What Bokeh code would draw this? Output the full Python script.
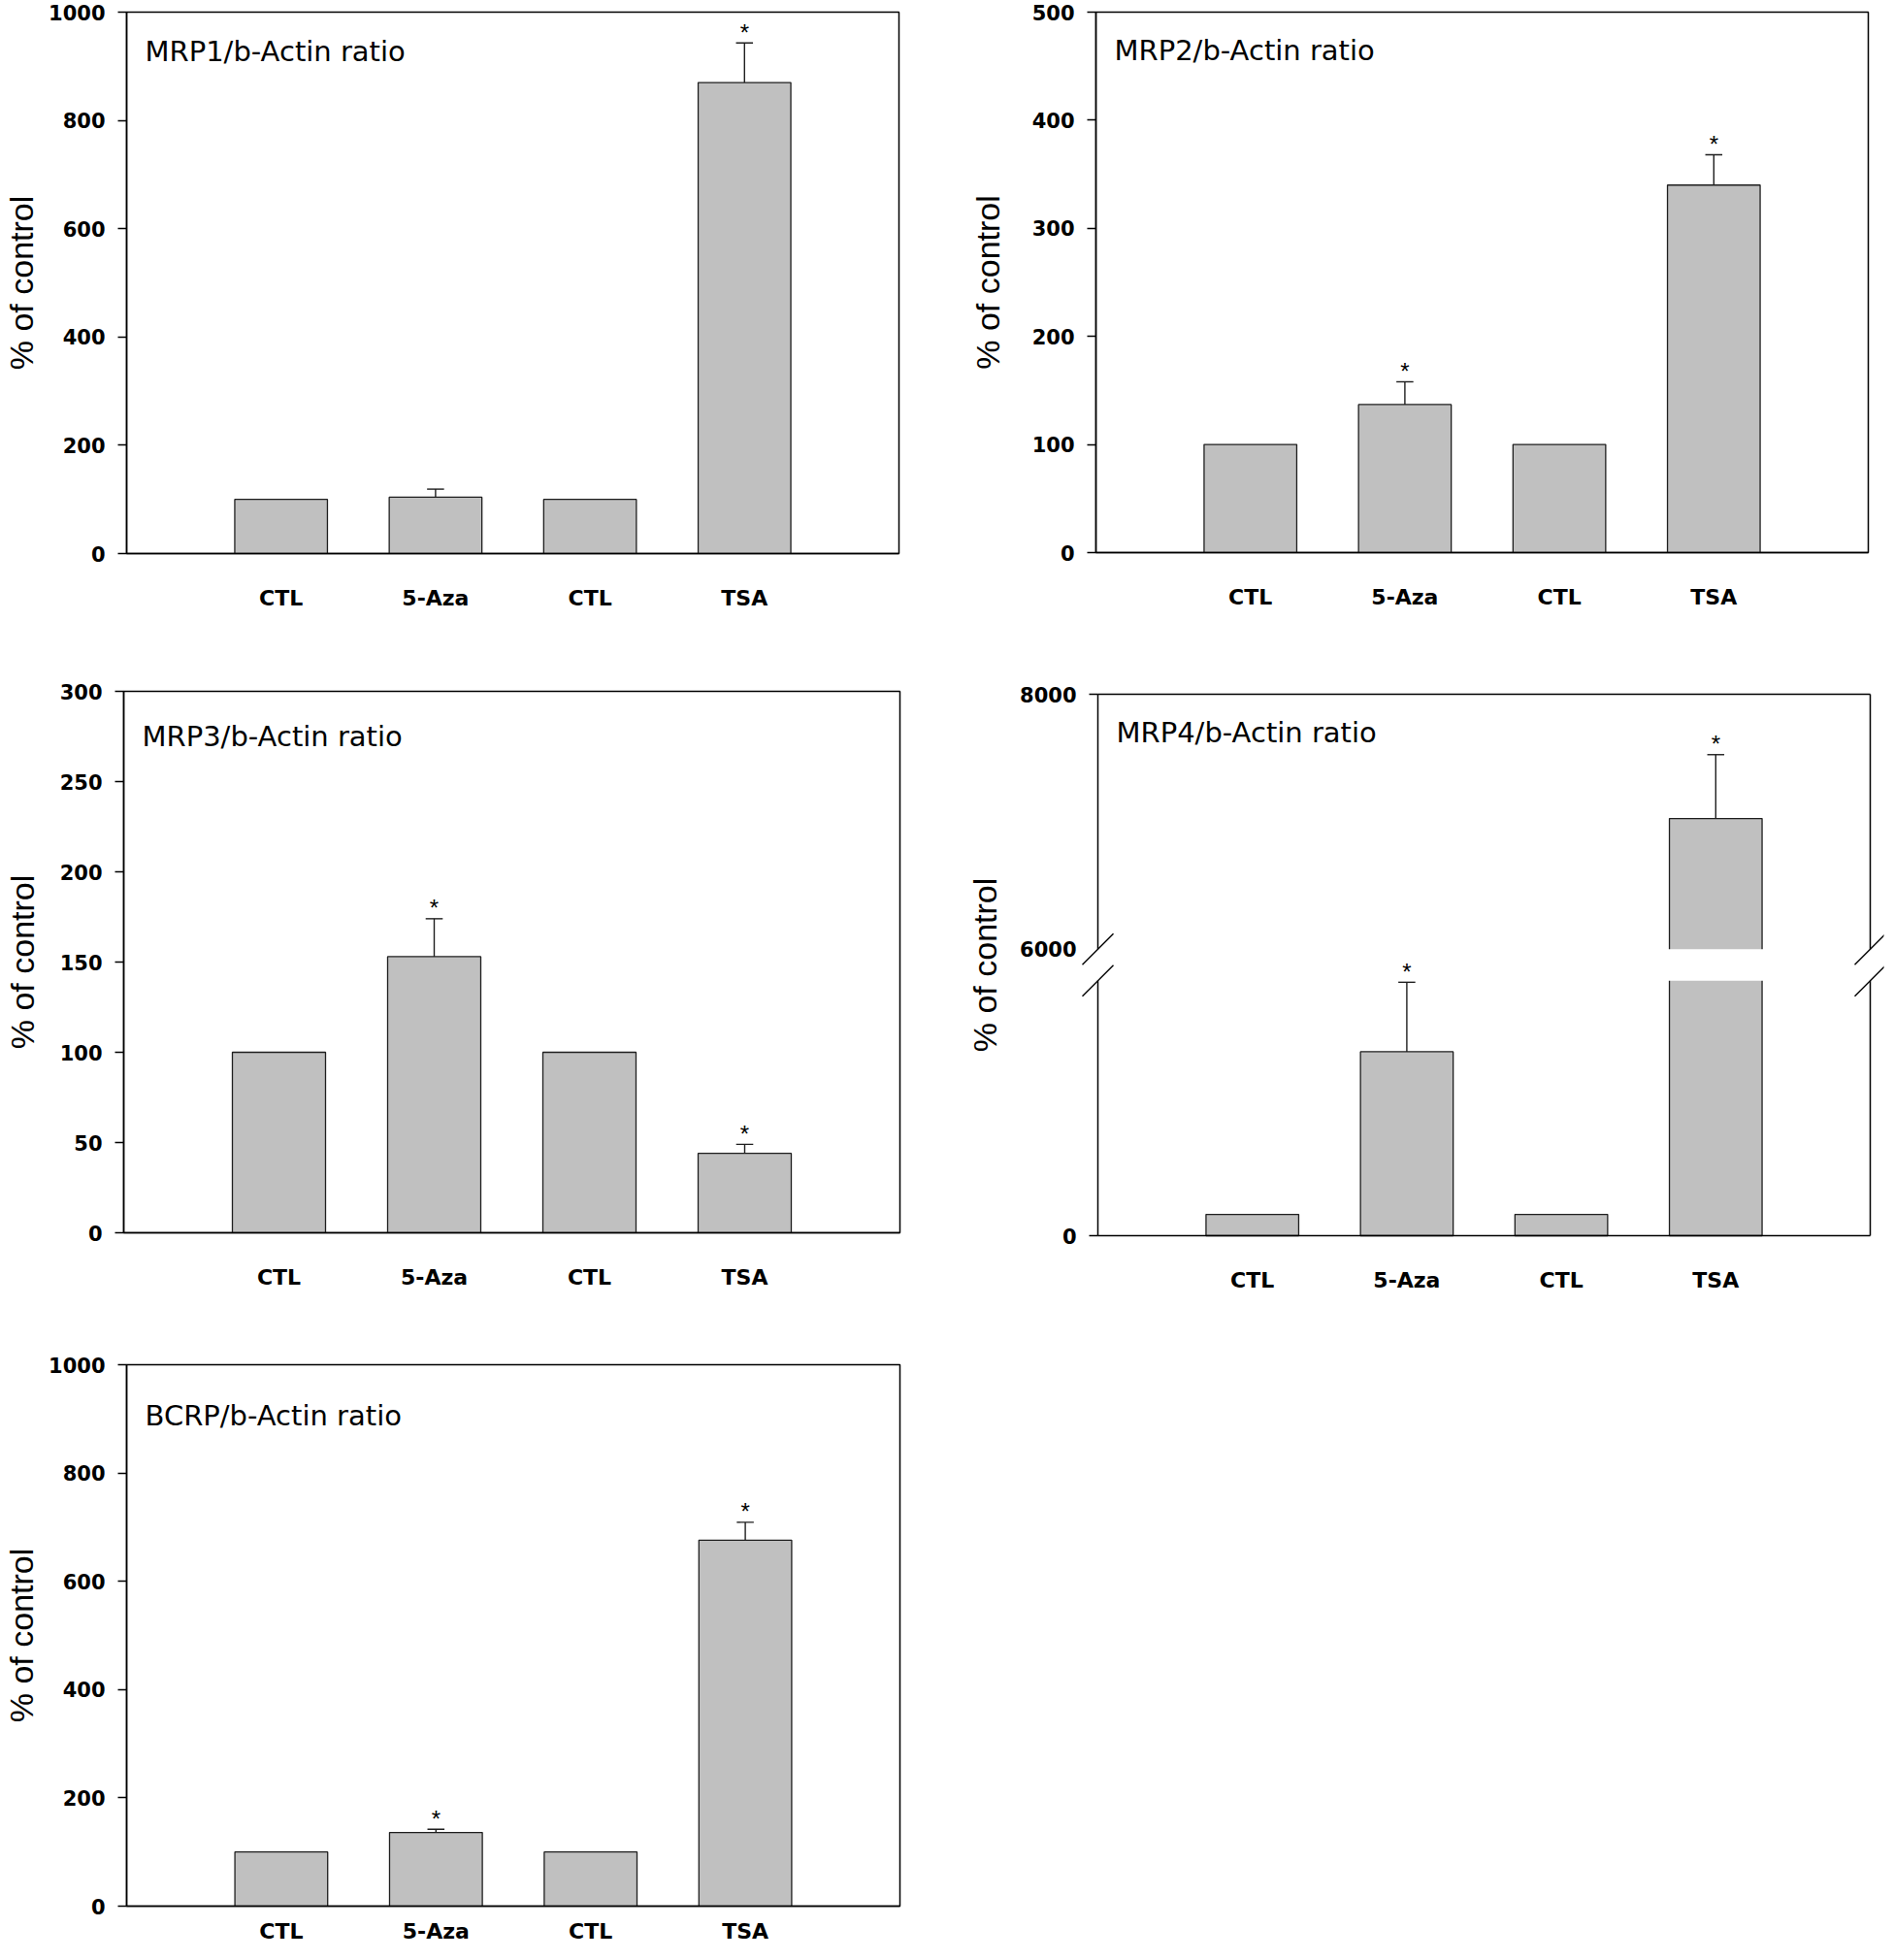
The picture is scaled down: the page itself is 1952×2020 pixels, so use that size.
from bokeh.plotting import figure
from bokeh.layouts import column, row
from bokeh.models import (Range1d, FixedTicker, Label, CustomJSTickFormatter, ColumnDataSource)
from bokeh.core.properties import value
from bokeh.embed import file_html
from bokeh.resources import INLINE

# ---------------- data ----------------
categories = ["CTL", "5-Aza", "CTL", "TSA"]
x_positions = [1, 2, 3, 4]
y_label = "% of control"

mrp1_title = "MRP1/b-Actin ratio"
mrp1_mean = [100, 104, 100, 870]
mrp1_sem = [0, 15, 0, 73]
mrp1_star = [False, False, False, True]
mrp1_yticks = [0, 200, 400, 600, 800, 1000]

mrp2_title = "MRP2/b-Actin ratio"
mrp2_mean = [100, 137, 100, 340]
mrp2_sem = [0, 21, 0, 28]
mrp2_star = [False, True, False, True]
mrp2_yticks = [0, 100, 200, 300, 400, 500]

mrp3_title = "MRP3/b-Actin ratio"
mrp3_mean = [100, 153, 100, 44]
mrp3_sem = [0, 21, 0, 5]
mrp3_star = [False, True, False, True]
mrp3_yticks = [0, 50, 100, 150, 200, 250, 300]

mrp4_title = "MRP4/b-Actin ratio"
mrp4_mean = [100, 866, 100, 7025]
mrp4_sem = [0, 327, 0, 501]
mrp4_star = [False, True, False, True]
mrp4_yticks = [0, 6000, 8000]
mrp4_low_top = 1200      # top of lower axis segment
mrp4_high_bottom = 6000  # bottom of upper axis segment

bcrp_title = "BCRP/b-Actin ratio"
bcrp_mean = [100, 136, 100, 676]
bcrp_sem = [0, 6, 0, 33]
bcrp_star = [False, True, False, True]
bcrp_yticks = [0, 200, 400, 600, 800, 1000]

# ---------------- style ----------------
BAR_FILL = "#c0c0c0"
EDGE = "#1e1e1e"
BAR_W = 0.6
CAP_W = 0.11
X_END = 5
TICK_FONT = "DejaVu Sans"
TICK_SIZE = "21px"
CAT_SIZE = "22px"
TITLE_FONT = "DejaVu Sans"
TITLE_SIZE = "29px"
STAR_OFFSET = -11


def make_fig(frame_w, frame_h, b_left, b_right, b_top, b_bottom, x_start, x_end,
             y_start, y_end, yticks, ylabel_standoff, xlabel_standoff,
             tick_out=9, label_standoff=13, draw_lines=True):
    p = figure(frame_width=frame_w, frame_height=frame_h,
               min_border_left=b_left, min_border_right=b_right,
               min_border_top=b_top, min_border_bottom=b_bottom,
               x_range=Range1d(x_start, x_end), y_range=Range1d(y_start, y_end),
               output_backend="svg", toolbar_location=None, tools="")
    p.grid.visible = False
    p.background_fill_color = "white"
    p.border_fill_color = "white"
    if draw_lines:
        p.outline_line_color = "black"
        p.outline_line_width = 1.5
        p.outline_line_alpha = 1.0
    else:
        p.outline_line_color = None

    yax = p.yaxis[0]
    yax.ticker = FixedTicker(ticks=yticks)
    yax.major_tick_out = tick_out
    yax.major_tick_in = 0
    yax.minor_tick_line_color = None
    yax.axis_line_width = 1.5
    yax.axis_line_color = "black" if draw_lines else None
    yax.major_tick_line_width = 1.5
    yax.major_tick_line_color = "black" if draw_lines else None
    yax.major_label_text_font = TICK_FONT
    yax.major_label_text_font_style = "bold"
    yax.major_label_text_font_size = TICK_SIZE
    yax.major_label_text_color = "black"
    yax.major_label_standoff = label_standoff
    yax.axis_label = y_label
    yax.axis_label_text_font = "Liberation Sans"
    yax.axis_label_text_font_style = "normal"
    yax.axis_label_text_font_size = "34px"
    yax.axis_label_text_color = "black"
    yax.axis_label_standoff = ylabel_standoff

    xax = p.xaxis[0]
    xax.ticker = FixedTicker(ticks=x_positions)
    xax.major_label_overrides = {x: c for x, c in zip(x_positions, categories)}
    xax.major_tick_line_color = None
    xax.minor_tick_line_color = None
    xax.major_tick_out = 0
    xax.major_tick_in = 0
    xax.axis_line_width = 1.5
    xax.axis_line_color = "black" if draw_lines else None
    xax.major_label_text_font = TICK_FONT
    xax.major_label_text_font_style = "bold"
    xax.major_label_text_font_size = CAT_SIZE
    xax.major_label_text_color = "black"
    xax.major_label_standoff = xlabel_standoff
    return p


def add_title(p, text, y_top, baseline_px):
    p.add_layout(Label(x=0, y=y_top, x_offset=19, y_offset=-baseline_px, text=text,
                       text_font=TITLE_FONT, text_font_size=TITLE_SIZE,
                       text_baseline="alphabetic", text_align="left", text_color="black"))


def add_bars(p, xs, bottoms, tops, range_name="default"):
    p.vbar(x=xs, bottom=bottoms, top=tops, width=BAR_W, fill_color=BAR_FILL,
           line_color=EDGE, line_width=1.3, y_range_name=range_name)


def add_errors(p, xs, means, sems, stars, range_name="default"):
    idx = [i for i in range(len(xs)) if sems[i] > 0]
    if idx:
        src = ColumnDataSource(dict(
            x=[xs[i] for i in idx],
            y0=[means[i] for i in idx],
            y1=[means[i] + sems[i] for i in idx],
            cl=[xs[i] - CAP_W / 2 for i in idx],
            cr=[xs[i] + CAP_W / 2 for i in idx]))
        p.segment(x0="x", y0="y0", x1="x", y1="y1", source=src, line_color=EDGE,
                  line_width=1.4, y_range_name=range_name)
        p.segment(x0="cl", y0="y1", x1="cr", y1="y1", source=src, line_color=EDGE,
                  line_width=1.4, y_range_name=range_name)
    sidx = [i for i in range(len(xs)) if stars[i]]
    if sidx:
        p.text(x=[xs[i] for i in sidx], y=[means[i] + sems[i] for i in sidx],
               text=["*"] * len(sidx), text_font=value("Liberation Sans"),
               text_font_size="24px", text_align="center", text_baseline="alphabetic",
               y_offset=STAR_OFFSET, text_color="black", y_range_name=range_name,
               level="overlay")


def simple_panel(title, means, sems, stars, yticks, frame_w, frame_h, borders,
                 ylabel_standoff, xlabel_standoff, title_px):
    p = make_fig(frame_w, frame_h, *borders, 0, X_END, yticks[0], yticks[-1], yticks,
                 ylabel_standoff, xlabel_standoff)
    add_bars(p, x_positions, [0] * len(means), means)
    add_errors(p, x_positions, means, sems, stars)
    add_title(p, title, yticks[-1], title_px)
    return p


p1 = simple_panel(mrp1_title, mrp1_mean, mrp1_sem, mrp1_star, mrp1_yticks,
                  796, 558, (125, 30, 12, 82), 6, 33, 40)
p2 = simple_panel(mrp2_title, mrp2_mean, mrp2_sem, mrp2_star, mrp2_yticks,
                  796, 557, (173, 16, 12, 83), 24, 33, 39)
p3 = simple_panel(mrp3_title, mrp3_mean, mrp3_sem, mrp3_star, mrp3_yticks,
                  800, 558, (121, 30, 60, 82), 17, 33, 46)
p5 = simple_panel(bcrp_title, bcrp_mean, bcrp_sem, bcrp_star, bcrp_yticks,
                  797, 558, (125, 30, 54, 40), 6, 13, 52)

# ---------------- MRP4 with broken axis ----------------
BOX_W, BOX_H = 796, 558      # visible plot box
SEG_PX = 262.7               # height of each axis segment
GAP_PX = BOX_H - 2 * SEG_PX
EXT_L, EXT_R, EXT_Y = 20, 14, 3   # extra frame room for the break marks
MARK = 16
TICK_LEN = 9

px_x = X_END / BOX_W
hi_max = mrp4_yticks[-1]
px_lo = mrp4_low_top / SEG_PX
px_hi = (hi_max - mrp4_high_bottom) / SEG_PX
lo_range = (-EXT_Y * px_lo, (BOX_H + EXT_Y) * px_lo)
hi_range = (hi_max - (BOX_H + EXT_Y) * px_hi, hi_max + EXT_Y * px_hi)
hi_zero = hi_max - BOX_H * px_hi
gap_lo = GAP_PX * px_lo
gap_hi = GAP_PX * px_hi
x_lo, x_hi = -EXT_L * px_x, X_END + EXT_R * px_x

tick_pos = [hi_zero if t == 0 else t for t in mrp4_yticks]
p4 = make_fig(BOX_W + EXT_L + EXT_R, BOX_H + 2 * EXT_Y, 154, 1, 52, 84,
              x_lo, x_hi, hi_range[0], hi_range[1], tick_pos, 14, 30,
              tick_out=0, label_standoff=2, draw_lines=False)
p4.extra_y_ranges = {"lo": Range1d(*lo_range)}
p4.yaxis[0].formatter = CustomJSTickFormatter(
    args=dict(zero=hi_zero),
    code="return Math.abs(tick - zero) < 1e-6 ? '0' : tick.toFixed(0);")

# bars: lower and upper pieces, cut edges hidden under the gap
lo_tops = [min(m, mrp4_low_top + 0.5 * gap_lo) for m in mrp4_mean]
add_bars(p4, x_positions, [0] * 4, lo_tops, "lo")
hi_idx = [i for i in range(4) if mrp4_mean[i] > mrp4_high_bottom]
add_bars(p4, [x_positions[i] for i in hi_idx],
         [mrp4_high_bottom - 0.5 * gap_hi] * len(hi_idx),
         [mrp4_mean[i] for i in hi_idx], "default")
p4.quad(left=x_lo, right=x_hi, bottom=mrp4_low_top, top=mrp4_low_top + gap_lo,
        fill_color="white", line_color=None, y_range_name="lo")

# plot box drawn in pieces
LW = 1.5
for xc in (0, X_END):
    p4.segment(x0=[xc], y0=[0], x1=[xc], y1=[mrp4_low_top], line_color="black",
               line_width=LW, y_range_name="lo")
    p4.segment(x0=[xc], y0=[mrp4_high_bottom], x1=[xc], y1=[hi_max], line_color="black",
               line_width=LW)
p4.segment(x0=[0], y0=[hi_max], x1=[X_END], y1=[hi_max], line_color="black", line_width=LW)
p4.segment(x0=[0], y0=[0], x1=[X_END], y1=[0], line_color="black", line_width=LW,
           y_range_name="lo")
# tick marks
for t in mrp4_yticks:
    if t == mrp4_high_bottom:
        continue
    rn = "lo" if t < mrp4_low_top else "default"
    p4.segment(x0=[-TICK_LEN * px_x], y0=[t], x1=[0], y1=[t], line_color="black",
               line_width=LW, y_range_name=rn)

lo_err = [i for i in range(4) if mrp4_mean[i] + mrp4_sem[i] <= mrp4_low_top + 1]
hi_err = [i for i in range(4) if i not in lo_err]
add_errors(p4, [x_positions[i] for i in lo_err], [mrp4_mean[i] for i in lo_err],
           [mrp4_sem[i] for i in lo_err], [mrp4_star[i] for i in lo_err], "lo")
add_errors(p4, [x_positions[i] for i in hi_err], [mrp4_mean[i] for i in hi_err],
           [mrp4_sem[i] for i in hi_err], [mrp4_star[i] for i in hi_err], "default")

# break marks
for xc in (0, X_END):
    p4.segment(x0=[xc - MARK * px_x], y0=[mrp4_high_bottom - MARK * px_hi],
               x1=[xc + MARK * px_x], y1=[mrp4_high_bottom + MARK * px_hi],
               line_color="black", line_width=1.4)
    p4.segment(x0=[xc - MARK * px_x], y0=[mrp4_low_top - MARK * px_lo],
               x1=[xc + MARK * px_x], y1=[mrp4_low_top + MARK * px_lo],
               line_color="black", line_width=1.4, y_range_name="lo")
add_title(p4, mrp4_title, hi_max, 39)

layout = column(row(p1, p2), row(p3, p4), row(p5))
open("out.html", "w").write(file_html(layout, INLINE))
